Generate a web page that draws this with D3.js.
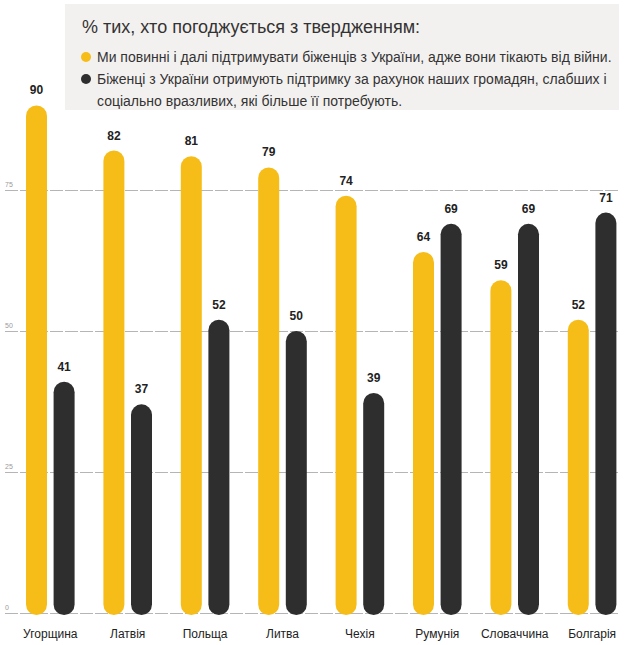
<!DOCTYPE html>
<html>
<head>
<meta charset="utf-8">
<script src="https://cdn.jsdelivr.net/npm/d3@7"></script>
<style>
  html, body { margin: 0; padding: 0; background: #fff; }
  svg { display: block; font-family: "Liberation Sans", Arial, sans-serif; }
</style>
</head>
<body>
<svg id="chart" width="625" height="645"></svg>
<script>
const countries = ["Угорщина", "Латвія", "Польща", "Литва", "Чехія", "Румунія", "Словаччина", "Болгарія"];
const supportValues = [90, 82, 81, 79, 74, 64, 59, 52];
const burdenValues = [41, 37, 52, 50, 39, 69, 69, 71];
const seriesNames = [
  "Ми повинні і далі підтримувати біженців з України, адже вони тікають від війни.",
  "Біженці з України отримують підтримку за рахунок наших громадян, слабших і",
  "соціально вразливих, які більше її потребують."
];
const titleText = "% тих, хто погоджується з твердженням:";
const tickValues = [0, 25, 50, 75];
const colors = ["#f6bd18", "#2e2e2e"];

const svg = d3.select("#chart");

const x0 = d3.scaleBand().domain(countries).range([11.6, 630.8]).padding(0);
const x1 = d3.scalePoint().domain([0, 1]).range([-13.8, 13.8]);
const y = d3.scaleLinear().domain([0, 75]).range([613, 190]);
const barW = 21;

// gridlines
const grid = svg.append("g").attr("transform", "translate(5,0)")
  .call(d3.axisLeft(y).tickValues(tickValues).tickSize(-615).tickFormat(d3.format("d")));
grid.select(".domain").remove();
grid.selectAll(".tick line")
  .attr("stroke", "#b5b5b5").attr("stroke-width", 1).attr("stroke-dasharray", "13,2");
grid.selectAll(".tick text")
  .attr("x", 0).attr("dy", -4).attr("text-anchor", "start")
  .attr("fill", "#9a9a9a").style("font-size", "7px");

// legend box
svg.append("rect").attr("x", 65).attr("y", 4).attr("width", 554).attr("height", 106).attr("fill", "#f3f1ef");
svg.append("text").attr("x", 82).attr("y", 33).attr("fill", "#333").style("font-size", "18px").text(titleText);
const legendRows = [
  { text: seriesNames[0], color: colors[0], y: 62 },
  { text: seriesNames[1], color: colors[1], y: 84 },
  { text: seriesNames[2], color: null, y: 106 }
];
legendRows.forEach(r => {
  if (r.color) {
    svg.append("circle").attr("cx", 86).attr("cy", r.y - 5).attr("r", 5).attr("fill", r.color);
  }
  svg.append("text").attr("x", 97).attr("y", r.y).attr("fill", "#333")
    .style("font-size", "14px").text(r.text);
});

// bars
const data = countries.map((c, i) => ({ c, vals: [supportValues[i], burdenValues[i]] }));
const groups = svg.append("g").selectAll("g").data(data).join("g")
  .attr("transform", d => `translate(${x0(d.c) + x0.bandwidth() / 2},0)`);

groups.selectAll("rect").data(d => d.vals.map((v, k) => ({ v, k }))).join("rect")
  .attr("x", d => x1(d.k) - barW / 2)
  .attr("width", barW)
  .attr("y", d => y(d.v))
  .attr("height", d => y(0) - y(d.v) + 2)
  .attr("rx", barW / 2)
  .attr("fill", d => colors[d.k]);

groups.selectAll("text.val").data(d => d.vals.map((v, k) => ({ v, k }))).join("text")
  .attr("class", "val")
  .attr("x", d => x1(d.k))
  .attr("y", d => y(d.v) - 11)
  .attr("text-anchor", "middle")
  .attr("fill", "#222")
  .style("font-size", "12px").style("font-weight", "bold")
  .text(d => d.v);

// x axis labels
const xa = svg.append("g").attr("transform", "translate(0,626)")
  .call(d3.axisBottom(x0).tickSize(0));
xa.select(".domain").remove();
xa.selectAll(".tick text").attr("fill", "#222").style("font-size", "12px")
  .style("font-family", "'Liberation Sans', Arial, sans-serif").attr("dy", "0.71em");
</script>
</body>
</html>
